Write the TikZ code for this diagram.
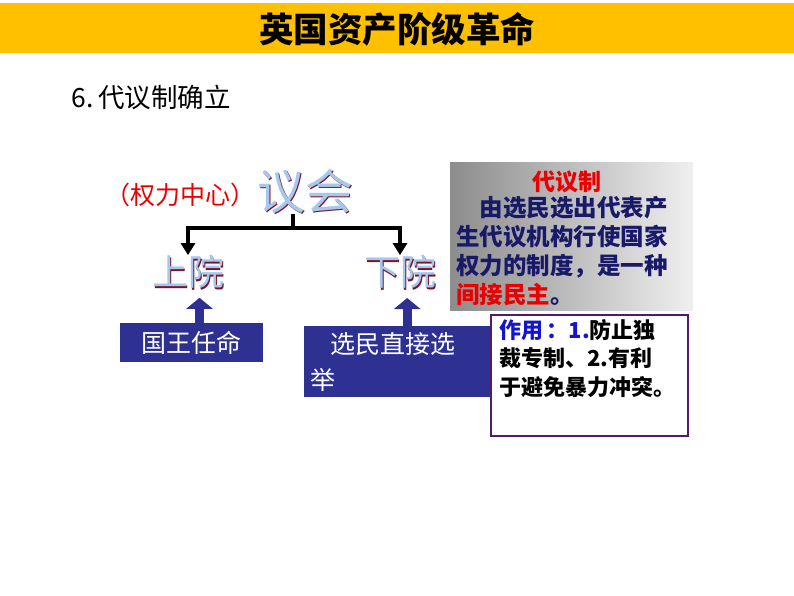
\documentclass[tikz,border=0pt]{standalone}
\usepackage{fontspec}
\setmainfont{Noto Sans CJK SC}
\usepackage{tikz}
\usetikzlibrary{positioning}
\usetikzlibrary{arrows.meta,calc}

\definecolor{TitleBar}{RGB}{255,192,0}
\definecolor{BoxBlue}{RGB}{46,49,146}
\definecolor{NavyText}{RGB}{25,25,105}
\definecolor{HouseBlue}{RGB}{165,200,238}
\definecolor{ShadowRed}{RGB}{125,20,45}
\definecolor{NoteRed}{RGB}{235,0,0}
\definecolor{FramePurple}{RGB}{85,25,105}
\definecolor{TermBlue}{RGB}{20,20,210}

\begin{document}
\begin{tikzpicture}[x=1pt,y=-1pt,
    housetext/.style={font=\fontsize{36}{36}\selectfont, text=HouseBlue, inner sep=0pt},
    houseshadow/.style={font=\fontsize{36}{36}\selectfont, text=ShadowRed, inner sep=0pt},
    bluebox/.style={fill=BoxBlue, text=white, font=\fontsize{25}{36}\selectfont, inner sep=0pt},
    blockarrow/.style={BoxBlue, line width=9pt, -{Triangle[width=26pt,length=11pt]}},
    bracket/.style={line width=4pt, black},
    bracketarrow/.style={bracket, -{Triangle[width=14pt,length=12pt]}}
]

    \useasboundingbox (0,0) rectangle (794,596);
    \fill[white] (0,0) rectangle (794,596);

	% the yellow bar with the heading
	\fill[TitleBar] (0,3) rectangle (794,53);
	\node[font=\fontsize{34.5}{34.5}\selectfont\bfseries] (Title) at (397,29) {英国资产阶级革命};

	\node[anchor=west, font=\fontsize{26.5}{26.5}\selectfont] (Section) at (68,97) {6.\,代议制确立};

	% parliament and its two houses
	% (a dark red copy under each word gives the shadow)
	\node[anchor=east, text=NoteRed, inner sep=0pt, font=\fontsize{25}{25}\selectfont] (Centre) at (256,195) {（权力中心）};
	\node[text=ShadowRed, inner sep=0pt, font=\fontsize{48}{48}\selectfont] (ParlShadow) at (306.5,192.5) {议会};
	\node[text=HouseBlue, inner sep=0pt, font=\fontsize{48}{48}\selectfont] (Parl) at (305,191) {议会};

	\node[houseshadow] (UpperShadow) at (189.5,273.5) {上院};
	\node[housetext]   (Upper)       at (188,272) {上院};
	\node[houseshadow] (LowerShadow) at (401.5,273.5) {下院};
	\node[housetext]   (Lower)       at (400,272) {下院};

	\coordinate (Hub) at (293,228);
	\draw[bracket] (Hub) -- ++(0,-14);
	\draw[bracketarrow] (Hub) -| (Upper.north);
	\draw[bracketarrow] (Hub) -| (Lower.north);

	%%%%%%%%%%%%%%%%%%%%%%%%%%%%%%%%%%%%%%%%%%%%%%%%%%%%%%%%%%%%%%
	% how each house is filled
	\node[bluebox, minimum width=143, minimum height=39] (King) at (191.5,342.5) {国王任命};
	\node[bluebox, anchor=north west, minimum width=200, minimum height=71,
	      text width=188, align=left, inner xsep=6pt, inner ysep=3pt] (Voters) at (304,326)
	      {\hspace{0.8em}选民直接选\\举};

	\draw[blockarrow] ([xshift=8pt]King.north) -- ++(0,-25);
	\draw[blockarrow] ([xshift=3pt]Voters.north) -- ++(0,-28);

	% definition of the representative system
	\node[anchor=north west, left color=black!45, right color=black!6, minimum width=243, minimum height=148,
	      inner sep=0pt] (Definition) at (450,162) {};
	\node[text=NoteRed, font=\fontsize{23}{23}\selectfont\bfseries] (DefTitle) at (567,182) {代议制};
	\node[anchor=north west, text=NavyText, align=left, inner sep=0pt,
	      font=\fontsize{23.5}{29}\selectfont\bfseries] (DefBody) at (456,196)
	      {\hspace{1em}由选民选出代表产\\生代议机构行使国家\\权力的制度，是一种\\\textcolor{NoteRed}{间接民主}。};

	% what it is good for
	\node[anchor=north west, draw=FramePurple, line width=1.5pt, fill=white, minimum width=197, minimum height=121,
	      inner sep=0pt] (Effect) at (490,314) {};
	\node[anchor=north west, align=left, inner sep=0pt,
	      font=\fontsize{22}{28.5}\selectfont\bfseries] (EffectText) at (499,319)
	      {\textcolor{TermBlue}{作用\,：1.}防止独\\裁专制、2.有利\\于避免暴力冲突。};

\end{tikzpicture}
\end{document}
